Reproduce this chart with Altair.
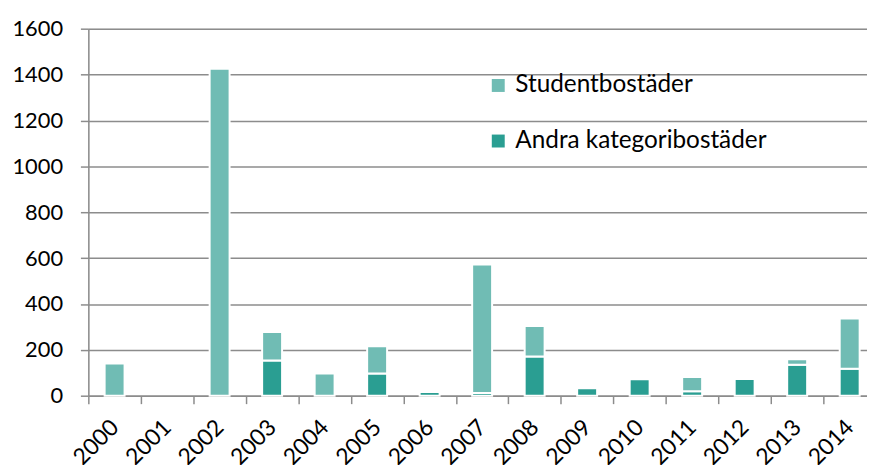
import altair as alt
import pandas as pd

years = [str(y) for y in range(2000, 2015)]
student = [140, 0, 1425, 125, 97, 119, 0, 560, 133, 0, 0, 62, 0, 24, 219]
andra = [0, 0, 0, 153, 0, 97, 16, 12, 171, 32, 72, 19, 73, 135, 117]
series = ["Studentbostäder", "Andra kategoribostäder"]
colors = ["#70BCB4", "#2A9E92"]

rows = []
for i, y in enumerate(years):
    rows.append({"year": y, "serie": series[1], "value": andra[i], "ord": 0})
    rows.append({"year": y, "serie": series[0], "value": student[i], "ord": 1})
df = pd.DataFrame(rows)

FONT = "Lato"
PI, PO = 0.62, 0.31
RANGE = 794
step = RANGE / (len(years) - PI + 2 * PO)
off = PO * step

chart = alt.Chart(df).transform_filter(
    alt.datum.value > 0
).mark_bar(stroke="white", strokeWidth=2).encode(
    x=alt.X("year:N", sort=years, title=None,
            scale=alt.Scale(domain=years, range=[0, RANGE], paddingInner=PI, paddingOuter=PO),
            axis=alt.Axis(labelAngle=-45, labelAlign="right", labelBaseline="middle",
                          labelFontSize=23, labelFont=FONT, labelColor="#000000",
                          labelPadding=20, bandPosition=0, tickSize=8,
                          tickOffset=-off, labelOffset=off,
                          tickColor="#8c8c8c", tickWidth=1.5, domainColor="#8c8c8c",
                          domainWidth=1.5)),
    y=alt.Y("value:Q", stack="zero", title=None,
            scale=alt.Scale(domain=[0, 1600], nice=False),
            axis=alt.Axis(values=list(range(0, 1601, 200)), format="d",
                          labelFontSize=22, labelFont=FONT,
                          labelColor="#000000", labelPadding=18, tickSize=8,
                          tickColor="#8c8c8c", tickWidth=1.5, domainColor="#8c8c8c",
                          domainWidth=1.5, gridColor="#8c8c8c", gridWidth=1.5)),
    color=alt.Color("serie:N", sort=series,
                    scale=alt.Scale(domain=series, range=colors),
                    legend=alt.Legend(title=None, orient="none", legendX=401, legendY=45,
                                      labelFont=FONT, labelFontSize=24.5, labelColor="#000000",
                                      labelLimit=0,
                                      symbolType="square", symbolSize=170, symbolStrokeWidth=0,
                                      rowPadding=31, labelOffset=5)),
    order=alt.Order("ord:Q", sort="ascending"),
).properties(
    width=785, height=370,
    autosize=alt.AutoSizeParams(type="none"),
    padding={"left": 81, "top": 19, "right": 0, "bottom": 68},
).configure_view(stroke=None).configure(background="white")

chart.save("out.html", embed_options={"renderer": "svg", "actions": False})
